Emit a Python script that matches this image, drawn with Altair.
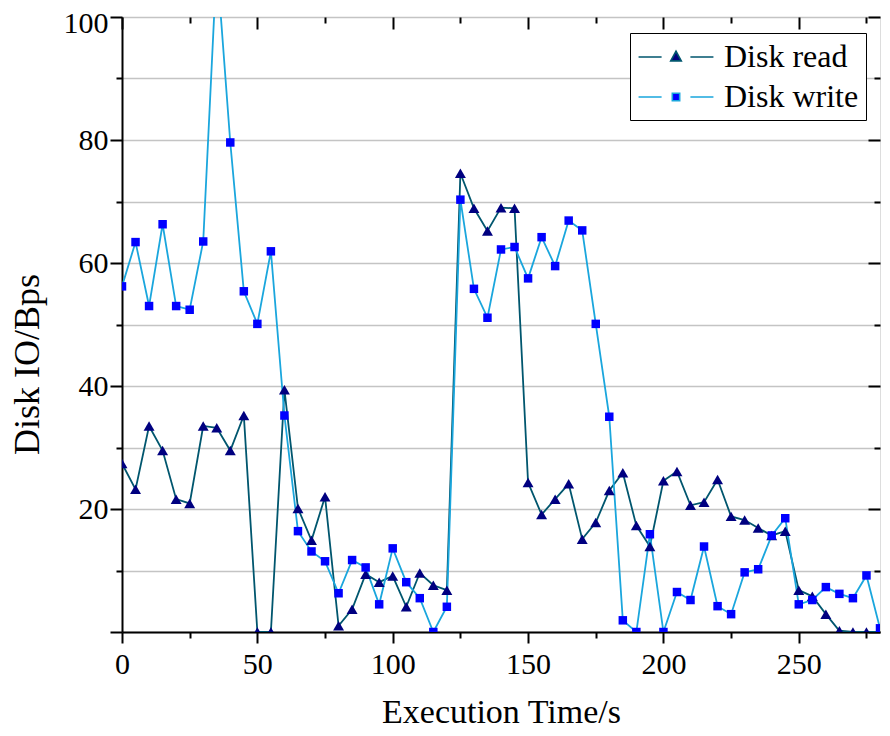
import altair as alt
import pandas as pd

# ---------------- data ----------------
time_s = list(range(0, 285, 5))
disk_read = [27.4, 23.2, 33.5, 29.5, 21.6, 20.9, 33.5, 33.2, 29.5, 35.2,
             0.0, 0.0, 39.4, 20.1, 14.9, 22.0, 1.0, 3.7, 9.4, 8.1,
             9.1, 4.1, 9.6, 7.6, 6.8, 74.6, 68.9, 65.2, 69.0, 68.9,
             24.3, 19.1, 21.6, 24.1, 15.1, 17.8, 23.0, 25.9, 17.3, 13.9,
             24.6, 26.1, 20.6, 21.1, 24.8, 18.8, 18.2, 16.9, 15.7, 16.4,
             6.8, 5.8, 2.9, 0.2, 0.0, 0.0, 0.0]
disk_write = [56.2, 63.4, 53.0, 66.3, 53.0, 52.4, 63.5, 109.0, 79.6, 55.4,
              50.1, 61.9, 35.2, 16.4, 13.1, 11.5, 6.3, 11.7, 10.5, 4.5,
              13.6, 8.1, 5.5, 0.0, 4.1, 70.3, 55.8, 51.1, 62.2, 62.6,
              57.5, 64.2, 59.5, 66.9, 65.3, 50.1, 35.0, 1.9, 0.0, 15.9,
              0.0, 6.5, 5.2, 13.9, 4.2, 2.9, 9.7, 10.2, 15.7, 18.5,
              4.5, 5.2, 7.3, 6.2, 5.5, 9.2, 0.6]
series = ["Disk read", "Disk write"]
x_ticks = list(range(0, 280, 25))
y_ticks = list(range(0, 101, 10))

df = pd.DataFrame({
    "time": time_s * 2,
    "value": disk_read + disk_write,
    "series": [series[0]] * len(time_s) + [series[1]] * len(time_s),
})

# ---------------- style ----------------
FONT = "Liberation Serif"
W, H = 758, 615
line_colors = ["#00566e", "#1aa6dd"]
marker_colors = ["#000080", "#0000ff"]
marker_sizes = [120, 72]
# legend symbols: line - marker - line (unit box scaled by sqrt(symbolSize)/2 = 16px)
legend_paths = [
    "M-2.34,0H-0.9M0.9,0H2.34M0,-0.36L0.33,0.24L-0.33,0.24Z",
    "M-2.34,0H-0.9M0.9,0H2.34M-0.23,-0.23H0.23V0.23H-0.23Z",
]

xscale = alt.Scale(domain=[0, 280], nice=False, zero=False)
yscale = alt.Scale(domain=[0, 100], nice=False)

x_major = {"condition": {"test": "datum.value % 50 === 0", "value": 11}, "value": 6}
x_major_top = {"condition": {"test": "datum.value % 50 === 0", "value": 12}, "value": 6}
y_major = {"condition": {"test": "datum.value % 20 === 0", "value": 12}, "value": 6}

bottom_axis = alt.Axis(
    orient="bottom", values=x_ticks,
    labelExpr="datum.value % 50 === 0 ? datum.label : ''",
    tickSize=x_major, tickWidth=2, tickColor="black",
    domain=True, domainColor="black", domainWidth=2, grid=False,
    labelFont=FONT, labelFontSize=30, labelColor="black", labelPadding=6,
    labelFlush=False, labelOverlap=False,
    title="Execution Time/s", titleFont=FONT, titleFontSize=34,
    titleFontWeight="normal", titleColor="black", titleY=63,
)
left_axis = alt.Axis(
    orient="left", values=y_ticks,
    labelExpr="(datum.value % 20 === 0 && datum.value > 0) ? datum.label : ''",
    labelOffset={"condition": {"test": "datum.value === 100", "value": 6}, "value": 0},
    tickSize=y_major, tickWidth=2, tickColor="black",
    domain=True, domainColor="black", domainWidth=2,
    grid=True, gridColor="#c4c4c4", gridWidth=1.5,
    labelFont=FONT, labelFontSize=30, labelColor="black", labelPadding=2,
    labelFlush=False, labelOverlap=False,
    title="Disk IO/Bps", titleFont=FONT, titleFontSize=36,
    titleFontWeight="normal", titleColor="black", titleX=-76, titleY=347,
)
top_axis = alt.Axis(
    orient="bottom", offset=-H, values=x_ticks, labels=False, domain=False,
    grid=False, tickSize=x_major_top, tickWidth=2, tickColor="black", title=None,
)
right_axis = alt.Axis(
    orient="left", offset=-W, values=y_ticks, labels=False, domain=False,
    grid=False, tickSize=y_major, tickWidth=2, tickColor="black", title=None,
)

base = alt.Chart(df)

lines = base.mark_line(clip=True, strokeWidth=1.8).encode(
    x=alt.X("time:Q", scale=xscale, axis=bottom_axis),
    y=alt.Y("value:Q", scale=yscale, axis=left_axis),
    stroke=alt.Stroke("series:N", scale=alt.Scale(domain=series, range=line_colors), legend=None),
)

points = base.mark_point(filled=True, clip=True, opacity=1).encode(
    x=alt.X("time:Q", scale=xscale, axis=top_axis),
    y=alt.Y("value:Q", scale=yscale, axis=right_axis),
    fill=alt.Fill("series:N", scale=alt.Scale(domain=series, range=marker_colors), legend=None),
    shape=alt.Shape("series:N", scale=alt.Scale(domain=series, range=["triangle-up", "square"]), legend=None),
    size=alt.Size("series:N", scale=alt.Scale(domain=series, range=marker_sizes), legend=None),
)

leg = dict(
    orient="none", legendX=508, legendY=16, title=None,
    strokeColor="black", padding=7, fillColor="white",
    labelFont=FONT, labelFontSize=32, labelColor="black",
    labelOffset=31, symbolOffset=22,
    symbolSize=1024, symbolStrokeWidth=1.6, rowPadding=7, symbolOpacity=1,
)

legend_layer = base.transform_filter("false").mark_point(filled=True, strokeWidth=1.6).encode(
    x=alt.X("time:Q", scale=xscale, axis=None),
    y=alt.Y("value:Q", scale=yscale, axis=None),
    fill=alt.Fill("series:N", scale=alt.Scale(domain=series, range=marker_colors), legend=alt.Legend(**leg)),
    stroke=alt.Stroke("series:N", scale=alt.Scale(domain=series, range=line_colors), legend=alt.Legend(**leg)),
    shape=alt.Shape("series:N", scale=alt.Scale(domain=series, range=legend_paths), legend=alt.Legend(**leg)),
)

chart = alt.layer(lines, points, legend_layer).resolve_scale(
    fill="independent", stroke="independent", shape="independent", size="independent"
).resolve_axis(
    x="independent", y="independent"
).resolve_legend(
    fill="independent", stroke="independent", shape="independent"
).properties(
    width=W, height=H, autosize="none",
    padding={"left": 114, "top": 9, "right": 2, "bottom": 96},
).configure_view(
    stroke="black", strokeWidth=2
).configure(
    font=FONT
)

chart.save("out.html", embed_options={"renderer": "svg", "actions": False})
